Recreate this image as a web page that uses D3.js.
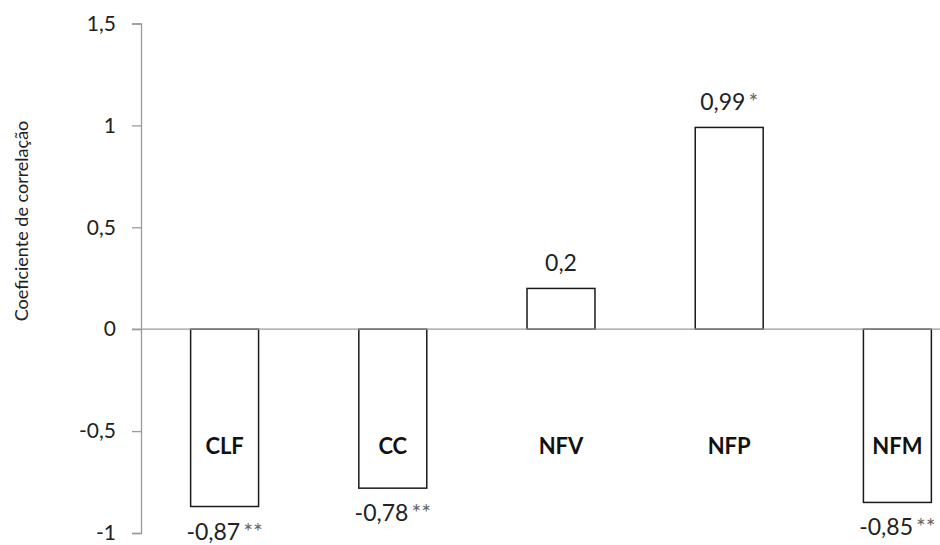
<!DOCTYPE html>
<html>
<head>
<meta charset="utf-8">
<script src="https://cdn.jsdelivr.net/npm/d3@7"></script>
<style>
  body { margin: 0; background: #fff; }
  svg { display: block; font-family: Lato, "Open Sans", sans-serif; }
</style>
</head>
<body>
<div id="chart"></div>
<script>
// data
var categories = ["CLF", "CC", "NFV", "NFP", "NFM"];
var values = [-0.87, -0.78, 0.2, 0.99, -0.85];
var valueLabels = ["-0,87", "-0,78", "0,2", "0,99", "-0,85"];
var stars = ["**", "**", "", "*", "**"];
var yTicks = [-1, -0.5, 0, 0.5, 1, 1.5];

var W = 940, H = 545;

var svg = d3.select("#chart").append("svg")
    .attr("width", W)
    .attr("height", H);

// plot runs past the right edge of the picture, like the original
var x = d3.scaleBand()
    .domain(categories)
    .range([140.5, 981.5])
    .paddingInner(0.596)
    .paddingOuter(0.298);

var y = d3.scaleLinear()
    .domain([-1, 1.5])
    .range([533, 23.5]);

var fmt = function(d){ return String(d).replace(".", ","); };

// y axis
var yAxis = d3.axisLeft(y)
    .tickValues(yTicks)
    .tickSize(9)
    .tickPadding(16)
    .tickFormat(fmt);

var gy = svg.append("g")
    .attr("transform", "translate(141,0)")
    .call(yAxis);
gy.select(".domain").attr("stroke", "#9a9a9a").attr("stroke-width", 1.3);
gy.selectAll(".tick line").attr("stroke", "#9a9a9a").attr("stroke-width", 1.3);
gy.selectAll(".tick text")
    .attr("fill", "#222")
    .style("font-size", "21px")
    .style("font-family", "Lato, sans-serif");

// bars
svg.selectAll("rect.bar")
    .data(values)
    .enter()
    .append("rect")
    .attr("class", "bar")
    .attr("x", function(d, i){ return x(categories[i]); })
    .attr("width", x.bandwidth())
    .attr("y", function(d){ return y(Math.max(0, d)); })
    .attr("height", function(d){ return Math.abs(y(d) - y(0)); })
    .attr("fill", "#fff")
    .attr("stroke", "#1a1a1a")
    .attr("stroke-width", 1.5);

// zero line (category axis)
svg.append("line")
    .attr("x1", 132).attr("x2", W)
    .attr("y1", y(0)).attr("y2", y(0))
    .attr("stroke", "#9a9a9a")
    .attr("stroke-width", 1.3);

// category names inside the plot
svg.selectAll("text.cat")
    .data(categories)
    .enter()
    .append("text")
    .attr("class", "cat")
    .attr("x", function(d){ return x(d) + x.bandwidth()/2; })
    .attr("y", y(-0.575))
    .attr("dy", "0.35em")
    .attr("text-anchor", "middle")
    .attr("fill", "#111")
    .style("font-weight", "bold")
    .style("font-size", "22px")
    .text(function(d){ return d; });

// value labels
var vl = svg.selectAll("text.val")
    .data(values)
    .enter()
    .append("text")
    .attr("class", "val")
    .attr("x", function(d, i){ return x(categories[i]) + x.bandwidth()/2; })
    .attr("y", function(d){ return d >= 0 ? y(d) - 17.5 : y(d) + 33; })
    .attr("text-anchor", "middle")
    .attr("fill", "#222")
    .style("font-size", "23px");

vl.append("tspan")
    .text(function(d, i){ return valueLabels[i]; });
vl.append("tspan")
    .attr("fill", "#666")
    .attr("dx", 3)
    .style("font-size", "23px")
    .text(function(d, i){ return stars[i]; });

// y title
svg.append("text")
    .attr("transform", "translate(22,221) rotate(-90)")
    .attr("text-anchor", "middle")
    .attr("dy", "0.35em")
    .attr("fill", "#222")
    .style("font-size", "18px")
    .text("Coeficiente de correlação");
</script>
</body>
</html>
